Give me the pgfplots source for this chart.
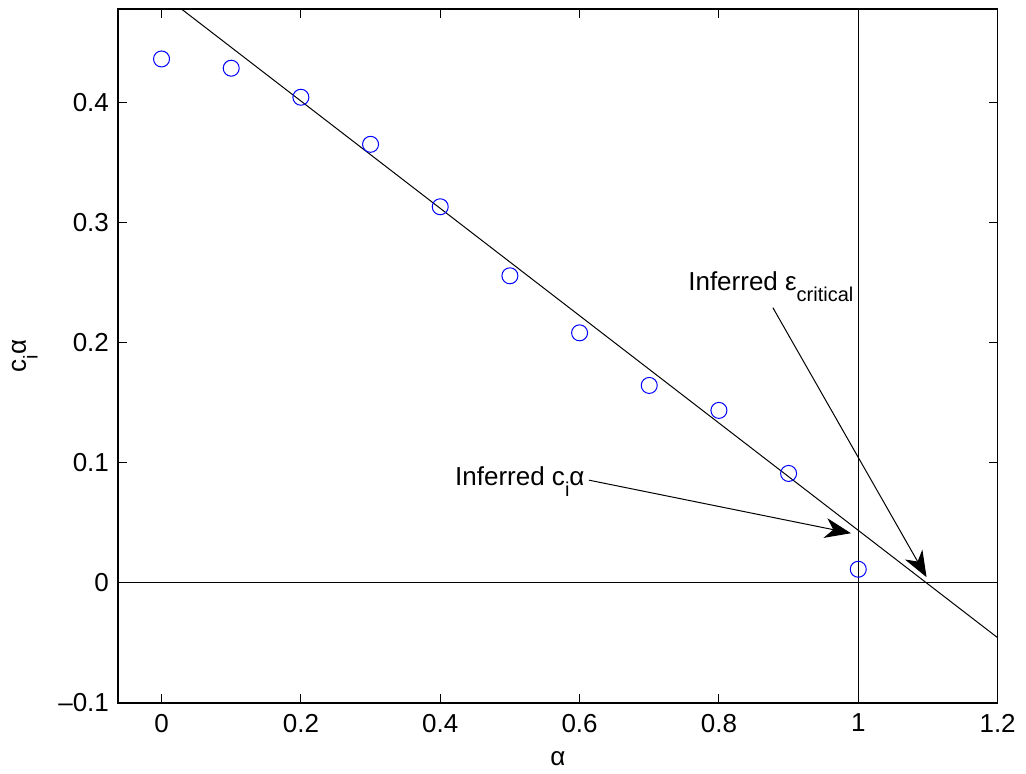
\documentclass[border=0pt]{standalone}
\usepackage{fontspec}
\setmainfont{Liberation Sans}
\usepackage{pgfplots}
\pgfplotsset{compat=1.18}
\usetikzlibrary{arrows.meta}
\newcommand\sub[1]{\raisebox{-0.45em}{\fontsize{10}{12}\selectfont #1}}
\begin{document}
\begin{tikzpicture}[x=0.5pt,y=0.5pt]
\path[use as bounding box] (-118,-70) rectangle (908,703);
\begin{axis}[
  scale only axis,
  width=439.8pt, height=347pt,
  xmin=-0.0625, xmax=1.2, ymin=-0.1, ymax=0.478,
  font=\fontsize{13}{15}\selectfont,
  xtick={0,0.2,0.4,0.6,0.8,1,1.2},
  xticklabels={0,0.2,0.4,0.6,0.8,1,1.2},
  ytick={-0.1,0,0.1,0.2,0.3,0.4},
  yticklabels={\textendash0.1,0,0.1,0.2,0.3,0.4},
  tick align=inside,
  major tick length=4.5pt,
  axis line style={line width=0.7pt},
  tick style={line width=0.5pt, black},
  xticklabel style={yshift=-2pt},
  yticklabel style={xshift=-1pt},
  xlabel={α},
  ylabel={c\sub{i}α},
  every axis x label/.style={at={(axis description cs:0.5,-0.08)}, anchor=center},
  every axis y label/.style={at={(axis description cs:-0.106,0.5)}, rotate=90, anchor=center},
  clip=true,
]
\addplot[only marks, mark=o, blue, mark size=4pt, line width=0.5pt] coordinates {
(0,0.4364) (0.1,0.4287) (0.2,0.4045) (0.3,0.3653) (0.4,0.3133)
(0.5,0.2558) (0.6,0.2083) (0.7,0.1645) (0.8,0.1437) (0.9,0.0912) (1.0,0.0114)
};
\addplot[black, line width=0.5pt] coordinates {(-0.0625,0.5187) (1.2,-0.0456)};
\addplot[black, line width=0.5pt] coordinates {(-0.0625,0) (1.2,0)};
\addplot[black, line width=0.5pt] coordinates {(1,-0.1) (1,0.478)};
\draw[line width=0.5pt, -{Stealth[length=13pt,width=10pt,inset=4pt]}]
  (axis cs:0.8775,0.2292) -- (axis cs:1.098,0.0048);
\draw[line width=0.5pt, -{Stealth[length=13pt,width=10pt,inset=4pt]}]
  (axis cs:0.6135,0.0856) -- (axis cs:0.9895,0.0414);
\node[anchor=base west, inner sep=0pt] at (axis cs:0.7555,0.2439) {Inferred ε\sub{critical}};
\node[anchor=base west, inner sep=0pt] at (axis cs:0.4209,0.0814) {Inferred c\sub{i}α};
\end{axis}
\end{tikzpicture}
\end{document}
